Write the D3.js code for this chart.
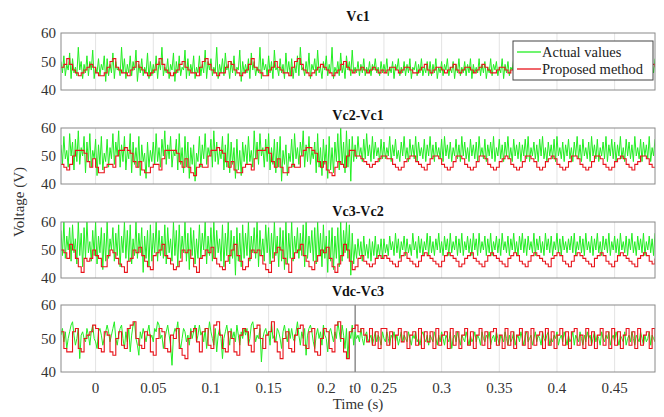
<!DOCTYPE html>
<html>
<head>
<meta charset="utf-8">
<script src="https://cdn.jsdelivr.net/npm/d3@7/dist/d3.min.js"></script>
<style>
body { margin: 0; background: #fff; }
</style>
</head>
<body>
<div id="chart-area"></div>
<script>
// measured signal sampled every 1.25 ms, proposed estimate every 2.5 ms, both from t = -0.03 s
const START = -0.03
const STEP_ACTUAL = 0.00125
const STEP_PROPOSED = 0.0025

const titles = ["Vc1", "Vc2-Vc1", "Vc3-Vc2", "Vdc-Vc3"]
const seriesNames = ["Actual values", "Proposed method"]
const xTicks = [0, 0.05, 0.1, 0.15, 0.2, 0.225, 0.25, 0.3, 0.35, 0.4, 0.45]
const xTickLabels = ["0", "0.05", "0.1", "0.15", "0.2", "t0", "0.25", "0.3", "0.35", "0.4", "0.45"]
const yTicks = [40, 50, 60]
const T_STEP = 0.225

// Vc1
const vc1Actual = [
  50,46,52,45,49,47,53,44,51,46,48,45,55,47,50,44, 49,46,52,45,50,47,54,44,48,46,51,45,49,47,52,43,
  51,45,49,46,53,44,50,47,48,45,55,46,51,44,49,46, 52,45,50,47,54,43,49,46,51,45,48,46,53,44,50,45,
  49,46,52,44,50,47,55,45,48,46,51,44,49,47,53,43, 50,46,52,45,48,47,54,44,51,45,49,46,52,44,48,46,
  52,45,49,46,54,44,50,47,51,45,48,46,55,44,49,46, 51,45,53,47,49,44,50,46,52,45,48,47,54,43,50,46,
  49,46,51,44,53,47,50,45,48,46,55,44,51,47,49,45, 52,46,50,44,54,47,48,45,51,46,49,44,53,46,50,45,
  51,44,49,46,52,45,55,47,48,45,50,46,53,44,49,47, 51,45,54,46,48,44,50,47,52,45,49,46,55,44,48,46,
  50,45,53,46,49,44,52,47,50,45,54,46, 48,46,50,45,49,46,51,45,48,46,50,45,49,47,51,46,48,45,50,46,
  49,46,51,45,48,46,50,44,49,47,51,45,48,46,50,45, 49,46,51,44,48,47,50,45,49,46,51,45,48,46,50,45,
  50,45,49,46,51,44,48,46,50,45,49,47,51,45,48,46, 50,44,49,46,51,45,48,46,50,45,49,46,51,44,49,46,
  48,46,51,45,49,46,50,44,48,46,51,45,49,47,50,45, 48,46,51,44,49,46,50,45,48,47,51,45,49,46,50,44,
  50,45,48,46,51,45,49,46,50,44,48,46,51,45,49,47, 50,45,48,46,51,44,49,46,50,45,48,46,51,45,49,46,
  49,46,50,45,48,46,51,44,49,46,50,45,48,47,51,45, 49,46,50,44,48,46,51,45,49,46,50,45,48,46,51,44,
  50,45,49,46,51,45,48,46,50,44,49,46,51,45,48,46, 50,45,49,46,51,44,48,46,50,45,49,46,51
]
const vc1Proposed = [
  48,49,51,49,47,46,45,46, 47,48,49,48,46,45,45,46,
  48,50,51,48,47,46,46,45, 47,48,50,48,47,46,45,46,
  47,49,51,49,47,46,45,46, 47,49,50,48,47,46,46,45,
  48,50,51,49,47,46,45,46, 46,48,50,49,47,46,45,46,
  47,49,51,48,47,46,45,45, 47,48,50,48,47,46,46,45,
  48,50,51,49,47,46,45,46, 47,48,49,48,47,46,45,46,
  47,49,50,48,47,46, 47,47,48,47,46,47,48,47,46,47,
  46,47,48,48,47,46,47,48, 48,47,46,46,47,48,49,47,
  46,47,48,48,47,46,47,48, 49,47,46,47,48,48,47,46,
  47,48,49,48,47,46,46,47, 48,48,47,46,47,48,49,47,
  46,47,48,49,47,46,47,48, 48,47,46,46,47,48,48,47,
  46,47,48,49,48,46,47,48, 48,47,46,47,48,49,47,46,
  47,48,48,47,46,47,48,49, 48,47,46,47,48,49,48
]

// Vc2-Vc1
const vc21Actual = [
  54,47,57,49,52,46,58,50,55,45,56,48,59,47,53,50, 57,44,55,48,58,46,52,49,56,43,54,47,57,45,51,48,
  56,46,53,49,58,47,55,50,59,46,54,48,57,45,52,49, 58,44,55,47,53,46,57,43,54,48,51,42,55,46,52,48,
  55,47,58,48,53,46,56,50,59,47,54,49,57,46,52,50, 56,45,58,47,53,44,57,46,55,42,53,47,54,41,51,48,
  57,46,54,49,58,47,53,50,56,46,59,48,55,47,52,49, 57,45,54,46,58,44,55,47,53,42,56,45,52,43,55,48,
  54,47,57,48,52,46,59,49,55,47,58,50,53,46,56,48, 58,45,53,47,56,44,55,46,57,41,52,47,54,43,51,48,
  56,46,58,49,53,47,55,50,59,46,54,48,57,47,52,49, 55,44,58,46,53,43,56,47,54,42,57,45,53,44,55,48,
  58,45,60,47,55,44,59,46,56,41,57,48, 54,49,57,50,53,48,56,49,58,50,54,48,57,49,55,50,53,48,56,49,
  55,49,53,50,57,48,54,50,56,49,52,48,55,50,57,49, 53,48,56,50,54,49,57,48,55,50,53,49,56,48,54,50,
  57,49,54,48,55,50,53,49,56,48,57,50,54,49,55,48, 53,50,56,49,54,48,57,50,55,49,53,48,56,50,54,49,
  55,48,57,50,53,49,56,48,54,50,55,49,57,48,53,50, 56,49,54,48,55,50,57,49,53,48,56,50,54,49,55,48,
  54,50,56,49,57,48,53,50,55,49,54,48,56,50,57,49, 53,48,55,50,54,49,56,48,57,50,53,49,55,48,54,50,
  56,49,53,48,55,50,57,49,54,48,56,50,53,49,55,48, 57,50,54,49,56,48,53,50,55,49,57,48,54,50,56,49,
  55,48,54,50,57,49,53,48,56,50,55,49,54,48,57,50, 53,49,56,48,55,50,54,49,57,48,53,50,56
]
const vc21Proposed = [
  47,46,45,47,50,52,52,52, 51,48,46,49,46,44,44,46,
  47,47,46,50,52,52,53,52, 51,48,46,48,45,44,44,46,
  47,47,45,49,52,52,52,52, 51,48,46,49,46,44,43,46,
  47,46,46,50,52,52,53,52, 51,48,46,48,45,44,44,46,
  47,47,45,49,52,52,52,53, 51,48,46,49,46,44,44,46,
  47,46,46,50,52,53,53,52, 51,48,46,48,45,44,43,46,
  48,47,46,50,52,52, 50,50,49,48,47,46,47,48,49,50,
  50,49,49,47,46,45,46,48, 49,50,50,48,47,46,45,47,
  49,50,50,49,47,46,45,46, 48,50,50,49,47,46,45,46,
  48,50,50,49,47,46,45,46, 48,49,50,49,47,46,45,46,
  48,50,50,49,48,46,45,46, 48,49,50,49,47,46,45,46,
  48,50,50,49,47,46,45,46, 48,50,50,49,47,46,45,46,
  48,49,50,49,47,46,45,47, 48,50,50,49,47,46,46
]

// Vc3-Vc2
const vc32Actual = [
  57,48,60,47,55,50,58,46,59,49,54,45,60,48,56,44, 58,47,60,49,53,46,57,48,60,45,55,49,58,43,56,46,
  60,47,54,50,58,46,56,48,59,44,55,49,60,47,57,46, 59,45,54,48,60,47,56,49,58,42,55,47,57,44,59,46,
  56,49,60,46,57,48,55,47,59,45,58,49,54,46,60,48, 57,44,59,47,55,49,60,46,56,43,58,48,57,45,54,47,
  59,47,56,50,60,45,55,48,58,46,60,47,57,49,54,46, 59,44,56,48,60,45,57,47,55,41,58,46,56,44,59,47,
  56,48,60,46,55,49,58,47,60,44,57,48,54,46,59,49, 58,45,56,47,60,48,55,44,58,46,57,43,60,45,56,47,
  60,46,55,49,58,47,56,48,59,44,60,47,55,49,57,46, 58,45,60,48,56,44,59,47,55,42,57,46,58,43,55,47,
  58,44,60,46,57,49,60,47,59,41,56,45, 52,47,54,48,53,46,55,48,52,47,54,46,53,48,55,47,52,48,54,47,
  54,49,52,48,55,50,53,48,56,49,54,47,53,50,55,48, 54,49,52,48,56,50,53,47,55,49,54,48,53,50,56,48,
  55,49,53,48,54,50,56,49,53,48,55,50,54,48,56,49, 53,50,55,48,54,49,56,48,53,50,55,49,54,48,56,50,
  54,48,56,49,53,50,55,48,54,49,56,48,53,50,55,49, 54,48,56,50,53,49,55,48,54,50,56,49,53,48,55,50,
  56,49,54,48,55,50,53,49,56,48,54,50,55,49,53,48, 56,50,54,49,55,48,53,50,56,49,54,48,55,50,53,49,
  54,50,55,49,56,48,53,50,55,49,54,48,56,50,53,49, 55,48,54,50,56,49,53,48,55,50,54,49,56,48,53,50,
  55,49,54,48,56,50,53,49,55,48,54,50,56,49,53,48, 55,50,54,49,56,48,53,50,55,49,54,48,56
]
const vc32Proposed = [
  50,49,47,52,50,47,44,42, 47,46,47,50,48,47,44,44,
  48,50,49,47,45,44,42,46, 47,50,49,51,48,46,44,43,
  48,49,50,52,48,47,45,43, 44,46,50,49,50,47,44,42,
  47,48,50,49,51,47,45,44, 43,46,48,50,52,48,46,43,
  44,47,50,49,50,48,45,43, 42,46,49,51,50,47,45,42,
  47,49,50,52,48,46,44,43, 46,48,50,49,51,47,44,42,
  45,48,52,50,46,43, 44,47,48,46,45,44,45,47,48,47,
  48,47,46,45,44,46,48,49, 47,46,45,44,46,48,49,48,
  47,46,45,44,46,48,49,48, 47,46,44,45,47,48,49,47,
  46,45,44,46,48,49,48,47, 46,45,44,47,48,49,48,46,
  45,44,46,48,49,48,47,46, 45,44,47,48,49,48,46,45,
  44,46,48,49,48,47,46,45, 44,47,48,49,48,46,45,44,
  46,48,49,48,47,46,45,44, 47,48,49,48,46,45,47
]

// Vdc-Vc3
const vdc3Actual = [
  51,53,49,52,47,50,52,54,55,51,48,50,53,44,51,52, 50,49,53,51,48,52,54,50,49,47,52,53,51,48,50,52,
  54,52,49,51,53,55,50,48,51,53,54,50,47,52,49,53, 46,51,54,55,50,48,45,52,50,53,51,49,52,54,50,51,
  49,53,52,55,54,50,51,47,50,52,54,51,48,42,51,53, 52,55,49,47,50,53,52,49,51,48,53,50,52,54,49,51,
  54,51,52,49,53,47,51,55,52,50,48,53,46,51,53,50, 44,50,52,54,51,48,53,50,52,49,54,51,48,52,50,53,
  51,53,48,50,54,55,52,49,51,50,53,43,50,52,53,51, 52,48,55,50,51,49,53,52,50,47,52,54,51,49,53,50,
  53,50,49,52,55,51,48,52,50,53,45,51,53,54,52,49, 47,51,53,50,52,48,54,51,50,46,52,53,51,49,52,50,
  55,52,49,54,51,47,53,44,52,50,54,48, 52,50,51,49,53,50,48,51,52,49,50,51,48,50,52,49,51,50,48,52,
  50,49,52,50,48,51,50,52,49,51,48,50,52,49,51,50, 49,52,50,48,51,50,52,49,50,48,51,52,50,49,51,48,
  51,50,49,52,50,48,51,49,52,50,48,51,50,49,52,47, 50,51,49,52,50,48,51,50,49,52,50,48,51,49,50,52,
  49,51,50,48,52,50,49,51,50,52,48,50,51,49,52,50, 48,51,50,49,52,50,48,51,49,50,52,48,50,51,49,52,
  50,48,51,52,49,50,51,48,50,52,49,51,50,48,52,50, 49,51,52,48,50,49,51,50,52,48,50,51,49,52,50,48,
  51,49,50,52,48,51,50,49,52,50,48,51,49,52,50,51, 48,50,52,49,51,50,48,52,50,49,51,50,52,48,50,51,
  49,52,50,48,51,50,49,52,48,50,51,49,52,50,48,51, 50,49,52,50,48,51,49,50,52,48,51,50,49
]
const vdc3Proposed = [
  52,47,46,46,52,53,47,46, 50,51,52,54,53,47,46,52,
  51,46,45,50,52,48,47,53, 54,55,50,48,47,52,51,46,
  45,50,53,52,47,46,51,50, 53,47,45,44,50,52,53,49,
  46,52,53,48,47,54,55,51, 47,46,52,50,46,45,51,53,
  52,48,46,53,54,50,47,51, 52,55,49,46,44,50,52,47,
  46,51,53,54,48,47,52,53, 46,45,50,53,52,47,46,54,
  55,50,46,44,52,53, 54,52,53,51,49,53,48,52,47,53,
  53,48,52,47,51,53,49,52, 47,51,52,48,53,47,52,49,
  52,47,53,48,51,52,47,53, 48,52,47,51,53,48,52,47,
  51,53,48,52,47,52,53,48, 51,47,53,48,52,47,51,53,
  48,52,47,53,48,51,52,47, 53,48,52,47,51,53,48,52,
  47,52,53,48,51,47,53,48, 52,47,51,53,48,52,47,53,
  48,52,47,51,53,48,52,47, 53,48,51,52,47,53,49
]

const panels = [
  {title: titles[0], actual: vc1Actual, proposed: vc1Proposed},
  {title: titles[1], actual: vc21Actual, proposed: vc21Proposed},
  {title: titles[2], actual: vc32Actual, proposed: vc32Proposed},
  {title: titles[3], actual: vdc3Actual, proposed: vdc3Proposed}
]

// layout
const WIDTH = 664
const HEIGHT = 417
const LEFT = 61
const RIGHT = 655
const TOPS = [33, 128, 222, 305]
const BOTTOMS = [90, 184, 278, 372]
const TITLE_Y = [21, 120, 216, 296]
const GREEN = "#22ee22"
const RED = "#e8141b"
const FONT = "Liberation Serif"

const svg = d3.select("#chart-area").append("svg")
  .attr("width", WIDTH)
  .attr("height", HEIGHT)

const x = d3.scaleLinear()
  .domain([-0.03, 0.485])
  .range([LEFT, RIGHT])

panels.forEach((p, k) => {
  const y = d3.scaleLinear().domain([40, 60]).range([BOTTOMS[k], TOPS[k]])
  const g = svg.append("g")

  svg.append("clipPath").attr("id", `clip${k}`)
    .append("rect")
    .attr("x", LEFT).attr("y", TOPS[k])
    .attr("width", RIGHT - LEFT).attr("height", BOTTOMS[k] - TOPS[k])

  // grid
  g.selectAll(".grid").data(xTicks.filter(t => t !== T_STEP)).enter().append("line")
    .attr("x1", d => x(d)).attr("x2", d => x(d))
    .attr("y1", TOPS[k]).attr("y2", BOTTOMS[k])
    .attr("stroke", "#e3e3e3")
    .attr("stroke-width", 1)

  if (k === 3) {
    g.append("line")
      .attr("x1", x(T_STEP)).attr("x2", x(T_STEP))
      .attr("y1", TOPS[k]).attr("y2", BOTTOMS[k])
      .attr("stroke", "#555")
  }

  const lineG = d3.line().x((d, i) => x(START + i * STEP_ACTUAL)).y(d => y(d))
  const lineR = d3.line().x((d, i) => x(START + i * STEP_PROPOSED)).y(d => y(d)).curve(d3.curveStepAfter)

  const plot = g.append("g").attr("clip-path", `url(#clip${k})`)
  plot.append("path")
    .datum(p.actual)
    .attr("d", lineG)
    .attr("fill", "none")
    .attr("stroke", GREEN)
    .attr("stroke-width", 1)
  plot.append("path")
    .datum(p.proposed)
    .attr("d", lineR)
    .attr("fill", "none")
    .attr("stroke", RED)
    .attr("stroke-width", 1.1)

  // box
  g.append("rect")
    .attr("x", LEFT).attr("y", TOPS[k])
    .attr("width", RIGHT - LEFT).attr("height", BOTTOMS[k] - TOPS[k])
    .attr("fill", "none")
    .attr("stroke", "#8a8a8a")

  // y ticks
  g.selectAll(".ytl").data(yTicks).enter().append("text")
    .attr("x", LEFT - 5)
    .attr("y", d => y(d) + 5)
    .attr("text-anchor", "end")
    .attr("font-family", FONT)
    .attr("font-size", "15px")
    .attr("fill", "#333")
    .text(d => d)

  g.append("text")
    .attr("x", (LEFT + RIGHT) / 2)
    .attr("y", TITLE_Y[k])
    .attr("text-anchor", "middle")
    .attr("font-family", FONT)
    .attr("font-size", "14px")
    .attr("font-weight", "bold")
    .attr("fill", "#111")
    .text(p.title)
})

// x tick labels under last panel
svg.append("g").selectAll("text").data(xTicks).enter().append("text")
  .attr("x", d => x(d))
  .attr("y", 393)
  .attr("text-anchor", "middle")
  .attr("font-family", FONT)
  .attr("font-size", "15px")
  .attr("fill", "#333")
  .text((d, i) => xTickLabels[i])

svg.append("text")
  .attr("x", (LEFT + RIGHT) / 2)
  .attr("y", 409)
  .attr("text-anchor", "middle")
  .attr("font-family", FONT)
  .attr("font-size", "15px")
  .attr("fill", "#333")
  .text("Time (s)")

svg.append("text")
  .attr("transform", "translate(24, 202) rotate(-90)")
  .attr("text-anchor", "middle")
  .attr("font-family", FONT)
  .attr("font-size", "15px")
  .attr("fill", "#333")
  .text("Voltage (V)")

// legend on first panel
const legend = svg.append("g")
legend.append("rect")
  .attr("x", 513).attr("y", 41)
  .attr("width", 140).attr("height", 39)
  .attr("fill", "#fff")
  .attr("stroke", "#444")
const legendColors = [GREEN, RED]
seriesNames.forEach((name, i) => {
  const ly = 52 + i * 17
  legend.append("line")
    .attr("x1", 517).attr("x2", 541)
    .attr("y1", ly).attr("y2", ly)
    .attr("stroke", legendColors[i])
    .attr("stroke-width", 1.3)
  legend.append("text")
    .attr("x", 542).attr("y", ly + 5)
    .attr("font-family", FONT)
    .attr("font-size", "14.5px")
    .attr("fill", "#222")
    .text(name)
})
</script>
</body>
</html>
